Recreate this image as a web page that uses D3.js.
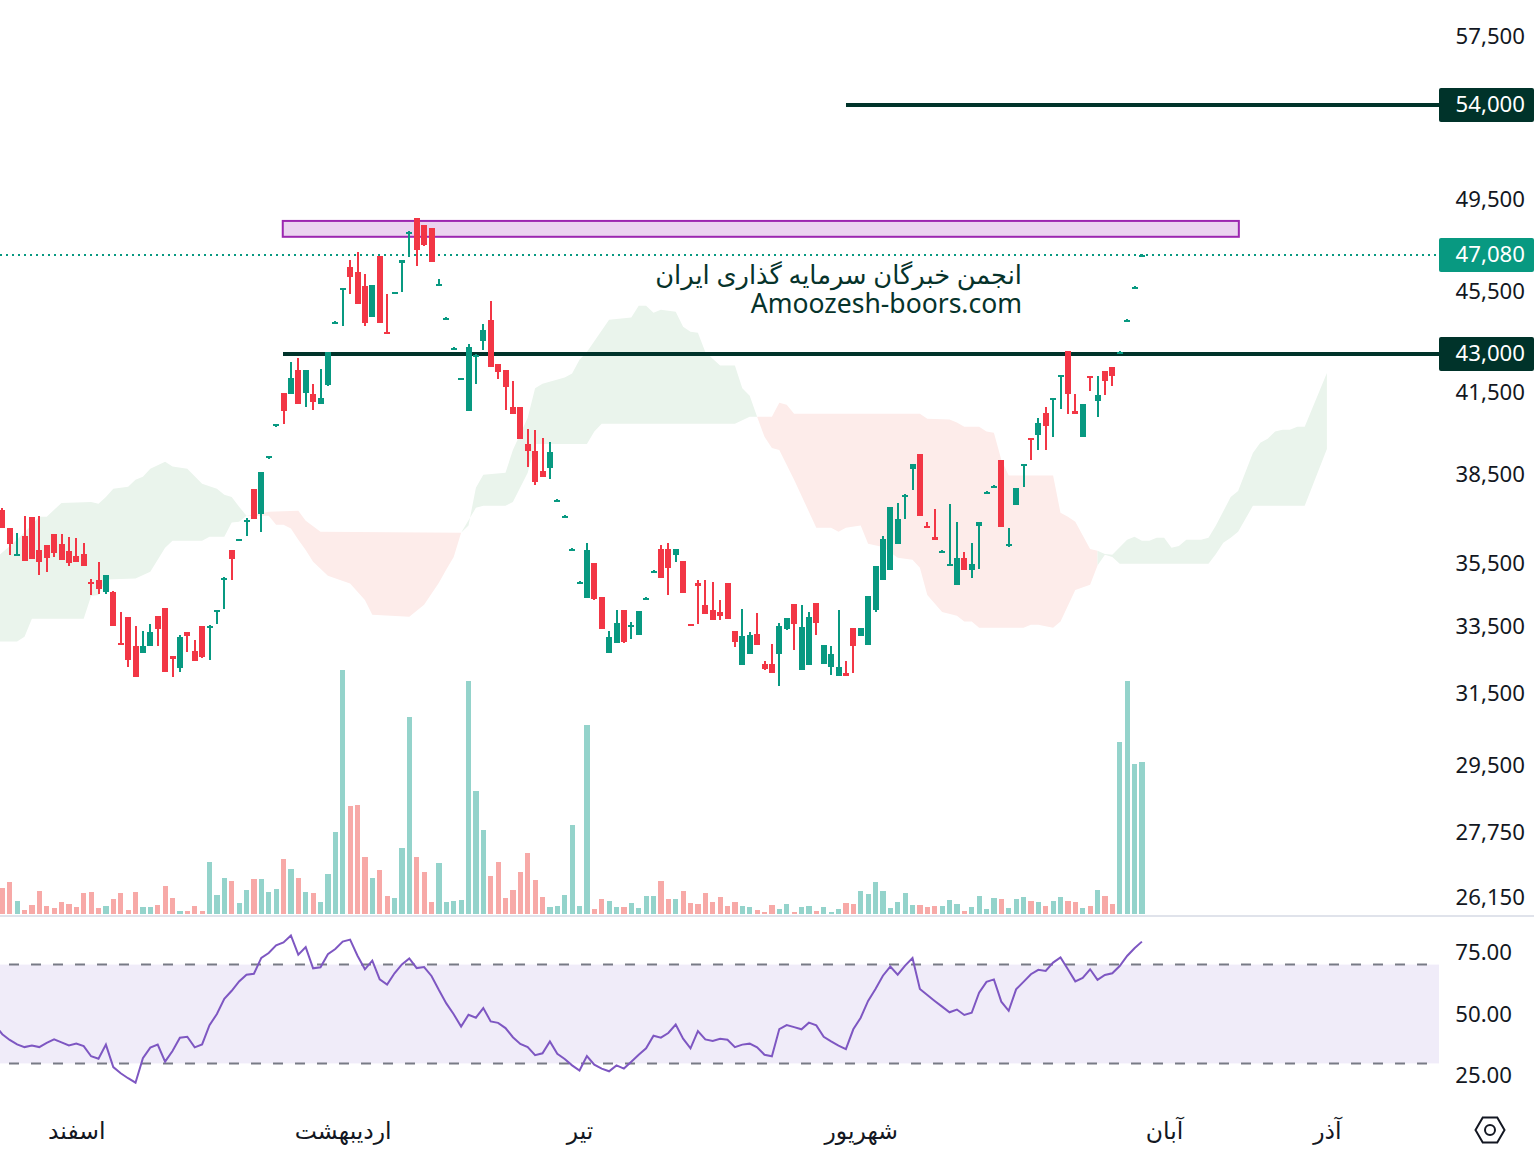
<!DOCTYPE html>
<html lang="fa">
    <head>
        <meta charset="utf-8">
        <title>Candles</title>
        <script src="https://d3js.org/d3.v7.min.js"></script>
        <style type="text/css">
            html, body{
                margin: 0;
                background: #fff;
            }
            svg{
                display: block;
            }
            text{
                font-family: "Noto Sans", "DejaVu Sans", sans-serif;
                fill: #131722;
            }
        </style>
    </head>
    <body>
        <svg width="1534" height="1154"></svg>
        <script type="text/javascript">

        //ADD DATA
        const open = [
            37270,36670,35770,36400,37040,35930,36100,36470,36130,35900,
            35740,35800,34900,34970,34580,34580,33010,33800,32910,32700,
            32910,33830,34080,32610,32260,33340,32760,33520,33490,33950,
            34970,35930,36230,36900,38000,37140,39090,40260,41490,41450,
            42370,41490,41450,41070,41790,44240,45590,46560,46340,45750,
            44480,47030,43870,45460,46720,48020,48680,48370,48240,45790,
            44390,43180,42000,40810,42920,43510,44350,42600,42370,40960,
            40960,39590,39340,38630,38740,37570,37030,35940,34880,34380,
            35510,34410,32700,33000,34010,33520,33250,34360,35220,35960,
            35960,35770,35580,33580,34870,34170,34010,33950,34870,33370,
            32350,32670,33280,32380,32380,32670,33430,34200,32200,32350,
            34230,32380,32290,32030,32090,33460,33220,32940,34010,34940,
            35290,36130,37710,38700,39230,36740,36370,35860,35450,34800,
            35670,35290,36740,37860,38070,39020,36060,37440,38840,39810,
            39920,40740,41220,42100,43100,40810,39850,42140,41180,42330,
            42490,43030,44320,45670,47060];
        const high = [
            37340,36670,36500,37070,37040,37070,36100,36470,36470,36370,
            36330,36170,35000,35540,35130,34610,33950,33800,33520,33370,
            33580,33830,34080,32610,33250,33340,33100,33520,33550,34010,
            35060,35930,36300,36980,38000,38600,39160,40330,41490,42680,
            42830,42370,41830,42410,43060,44310,45680,46850,47200,46260,
            45770,47030,45410,45510,46850,48110,48680,48370,48240,46040,
            44460,43250,42060,43380,42990,44190,45120,42600,42370,41950,
            40960,40150,40110,39810,39670,37650,37090,35990,34920,36170,
            35510,34410,33370,34010,34010,33650,33980,34400,35280,36100,
            36170,35960,35580,33580,34970,34940,34900,34320,34870,33370,
            34040,33340,33920,32470,32970,33610,33770,34200,34170,33950,
            34230,32940,32910,34010,32470,33460,33460,34450,35390,36400,
            37380,37510,37800,38880,39230,36870,37310,35920,37480,36870,
            35870,36170,36870,37920,38130,39020,36670,38030,38880,39810,
            40550,40960,41300,42170,43100,41450,41070,42140,42140,42330,
            42490,43090,44380,45730,47120];
        const low = [
            36650,35770,35740,35580,35640,35130,35220,35700,35610,35420,
            35540,35420,34480,34510,34510,33520,32940,32290,31990,32700,
            32910,32910,32140,32000,32140,32730,32470,32560,32500,33580,
            34040,34970,36230,36400,36970,36530,39060,40220,40330,41450,
            41070,40960,40850,41070,41750,44190,44110,45410,45000,44110,
            44480,44230,43790,45440,45500,46980,46600,47450,46770,45750,
            44360,43150,41970,40810,41830,43140,42490,42030,40850,40700,
            39780,38780,38140,38420,38350,37540,37010,35920,34860,34380,
            34320,33430,32700,33000,33000,33130,33250,34340,35200,35030,
            34480,35540,34550,33520,33580,33890,33710,33710,33740,32880,
            32350,32670,32940,32200,32090,31730,33400,32790,32200,32350,
            33250,32380,32050,32030,32030,32090,33220,32940,33950,34940,
            35290,36130,36970,37960,37070,36670,36270,35840,35420,34800,
            35290,35030,35320,37830,38040,36700,36030,37440,38070,39020,
            39370,39370,39850,40890,40670,40670,39850,41570,40590,41410,
            41750,43000,44290,45640,47040];
        const close = [
            36650,36130,35800,35580,35640,35540,35670,35830,35610,35510,
            35540,35420,34840,34680,35130,33520,32970,32500,31990,32910,
            33340,33430,32140,32530,33190,33220,32470,32590,33520,34010,
            35030,35640,36300,36940,36970,38600,39140,40310,40810,42070,
            41070,42370,41150,41300,43060,44280,45640,46130,45000,44230,
            45770,44230,43820,45490,46850,48080,47280,47500,46770,45830,
            44430,43220,42040,43260,42960,43950,42490,42290,41720,40700,
            39780,39340,38240,38420,39300,37610,37070,35970,34900,35930,
            34350,33430,33190,33610,33040,33550,33980,34380,35260,35030,
            35350,35960,34550,33520,34770,33890,33710,33830,33740,33040,
            33220,33250,32940,32230,32090,33520,33770,33580,33490,33800,
            33610,32940,32670,32290,32030,32910,33460,34450,35390,36300,
            37380,36970,37770,38880,37070,36670,36270,35900,35480,35670,
            35290,35480,36870,37900,38110,36700,36130,38030,38880,39740,
            40370,40260,41300,42170,41450,40670,41070,42070,41410,41950,
            42140,43070,44360,45710,47080];
        const volume = [
            26,32,13,4,9,23,8,6,12,10,
            7,21,22,6,8,15,21,4,22,7,
            7,9,28,16,3,3,8,3,52,19,
            36,33,11,24,35,35,22,25,55,45,
            36,22,21,12,40,82,244,108,109,57,
            36,44,18,16,66,197,57,42,12,51,
            12,13,14,233,123,84,38,52,16,24,
            42,61,34,17,7,8,19,89,8,189,
            5,15,13,7,7,11,6,18,18,33,
            15,15,23,11,10,21,12,17,8,12,
            8,7,4,2,9,5,10,2,7,8,
            3,7,2,5,11,10,23,20,32,23,
            6,12,21,9,9,7,8,8,14,10,
            3,7,18,5,16,15,6,15,17,13,
            12,8,13,17,13,12,6,8,24,18,
            10,172,233,150,152];
        //first value belongs to the bar just left of the frame
        const rsi = [
            45.5,41.8,39.5,37.7,36.6,37.2,36.6,38.3,39.7,38.5,37.3,
            38.0,37.0,32.9,31.9,37.6,28.5,26.0,24.0,22.2,32.1,
            36.4,37.6,30.7,35.0,40.4,40.8,36.5,37.7,45.5,50.0,
            56.1,59.4,63.2,65.9,66.3,72.7,74.7,77.8,79.0,81.8,
            74.0,77.1,68.5,68.9,74.2,76.3,79.3,80.1,73.6,68.1,
            71.6,64.0,61.9,66.5,70.1,72.5,68.6,69.0,65.4,59.7,
            54.3,49.9,44.9,49.7,48.5,52.4,47.0,46.4,44.3,40.6,
            37.9,36.6,33.3,34.1,38.9,33.9,31.8,29.2,27.1,33.0,
            29.5,27.9,26.8,29.2,27.9,30.7,33.5,36.1,41.2,40.4,
            42.3,45.7,40.0,36.1,43.1,39.7,39.1,40.0,39.6,36.6,
            37.6,38.0,36.5,33.5,32.9,43.9,45.5,44.7,43.8,46.5,
            45.4,40.8,38.9,37.2,35.8,43.8,48.5,55.3,60.1,65.5,
            69.2,65.9,69.6,72.7,60.1,57.7,55.3,53.0,50.7,51.8,
            49.6,50.5,58.6,63.0,64.0,55.0,51.3,60.0,63.0,66.1,
            67.9,67.4,70.8,72.9,68.1,63.2,64.6,68.1,63.8,65.8,
            66.5,69.4,73.5,76.6,79.3];

        //ICHIMOKU CLOUD, [bar, price] at each bend of the edge
        const cloudGreen1Top = [[-1,35640],[2,36270],[4,36770],[5,37040],[6,37040],[8,37510],[12,37540],[13,37480],[14,37710],[15,38000],[17,38070],[18,38310],[19,38420],[20,38700],[22,38950],[23,38780],[25,38700],[27,38170],[29,38000],[30,37790],[31,37710],[32,37380],[33,37070]];
        const cloudGreen1Bottom = [[-1,33040],[2,33040],[3,33190],[4,33740],[11,33740],[12,34450],[13,34480],[14,34970],[18,35000],[20,35220],[22,36000],[23,36230],[27,36230],[28,36370],[30,36370],[31,36840],[32,36870],[33,37070]];
        const cloudRed1Top = [[33,37070],[36,37210],[40,37240],[41,36900],[43,36530],[62,36500]];
        const cloudRed1Bottom = [[33,37070],[36,37070],[37,36770],[38,36770],[39,36640],[40,36270],[41,35930],[42,35540],[44,35090],[47,34840],[49,34320],[50,33860],[55,33800],[57,34170],[59,34870],[60,35290],[61,35700],[62,36500]];
        const cloudGreen2Top = [[62,36500],[63,36740],[64,38030],[65,38490],[68,38560],[69,39370],[71,40550],[72,41660],[73,41830],[76,42070],[77,42220],[78,42760],[79,43060],[82,44350],[85,44440],[86,44920],[87,44920],[88,44640],[89,44760],[91,44680],[92,44070],[93,43870],[94,43830],[95,43060],[97,42530],[99,42530],[100,41660],[101,41370],[102,40590]];
        const cloudGreen2Bottom = [[62,36500],[64,37340],[65,37410],[68,37410],[69,37540],[71,38560],[72,39590],[79,39590],[80,40040],[81,40330],[99,40330],[101,40590],[102,40590]];
        const cloudRed2Top = [[102,40590],[104,40590],[105,41110],[106,41030],[107,40700],[124,40700],[125,40510],[128,40480],[129,40370],[130,40220],[132,40220],[133,40040],[134,40000],[135,39020],[136,38460],[142,38460],[143,37170],[144,37040],[145,36870],[147,35960],[148,35900]];
        const cloudRed2Bottom = [[102,40590],[103,39850],[104,39440],[105,39370],[107,38310],[110,36670],[112,36670],[113,36530],[114,36670],[116,36740],[117,36130],[119,36030],[121,35670],[123,35610],[124,35350],[125,34480],[127,33950],[129,33830],[130,33650],[131,33650],[132,33460],[138,33460],[139,33550],[140,33550],[142,33460],[143,33650],[145,34640],[147,34800],[148,35420]];
        const cloudGreen3Top = [[148,35900],[149,35800],[150,35770],[152,36270],[153,36370],[154,36230],[155,36230],[156,36330],[157,36330],[158,36000],[159,36060],[160,36270],[162,36270],[163,36330],[164,36740],[166,37710],[167,37920],[169,39260],[170,39630],[171,39780],[172,40040],[173,40110],[174,40110],[175,40220],[176,40220],[179,42240]];
        const cloudGreen3Bottom = [[148,35420],[149,35770],[150,35700],[151,35480],[163,35480],[164,35800],[165,36170],[166,36330],[167,36530],[169,37410],[176,37410],[179,39410]];

        //TICKS AND LABELS
        const priceTicks = [57500,49500,45500,41500,38500,35500,33500,31500,29500,27750,26150];
        const rsiTicks = [75,50,25];
        const rsiBounds = [70,30];
        const monthBars = [10,46,78,116,157,179];
        const monthNames = ["اسفند","اردیبهشت","تیر","شهریور","آبان","آذر"];
        const levels = [54000,43000];
        const levelStartBars = [114,37.9];
        const lastPrice = 47080;
        const zoneTop = 48550;
        const zoneBottom = 47850;
        const zoneBars = [37.9,167.1];
        const watermark = ["انجمن خبرگان سرمایه گذاری ایران","Amoozesh-boors.com"];
        const watermarkSizes = [25.7,26.5];

        //COLOR
        const upColor = "#089981";
        const downColor = "#f23645";
        const volUpColor = "#94d3cb";
        const volDownColor = "#f7a9a7";
        const levelColor = "#00332a";

        //SCALE
        const plotRight = 1439;
        const x = d3.scaleLinear().domain([0,154]).range([2.3,1141.9]);
        const y = d3.scaleLog().domain([26150,57500]).range([897.2,36]);
        const volY = d3.scaleLinear().domain([0,244]).range([914,670]);
        const rsiY = d3.scaleLinear().domain([25,75]).range([1075.75,952.25]);

        const svg = d3.select("svg");

        //CLOUD
        const edge = d3.line().x(d => x(d[0])).y(d => y(d[1]));
        const clouds = [
            [cloudGreen1Top,cloudGreen1Bottom,"#eaf4ec"],
            [cloudRed1Top,cloudRed1Bottom,"#fdecea"],
            [cloudGreen2Top,cloudGreen2Bottom,"#eaf4ec"],
            [cloudRed2Top,cloudRed2Bottom,"#fdecea"],
            [cloudGreen3Top,cloudGreen3Bottom,"#eaf4ec"]
        ];
        svg.selectAll("path.cloud")
           .data(clouds)
           .join("path")
           .attr("class","cloud")
           .attr("fill", d => d[2])
           .attr("d", d => edge(d[0].concat(d[1].slice().reverse())) + "Z");

        //VOLUME
        svg.selectAll("rect.vol")
           .data(volume)
           .join("rect")
           .attr("class","vol")
           .attr("shape-rendering","crispEdges")
           .attr("x", (d,i) => x(i) - 2.6)
           .attr("width", 5.2)
           .attr("y", d => volY(d))
           .attr("height", d => volY(0) - volY(d))
           .attr("fill", (d,i) => close[i] >= open[i] ? volUpColor : volDownColor);

        svg.append("rect")
           .attr("x",0).attr("width",1534)
           .attr("y",915).attr("height",2)
           .attr("fill","#e0e3eb");

        //ZONE
        svg.append("rect")
           .attr("x", x(zoneBars[0]))
           .attr("width", x(zoneBars[1]) - x(zoneBars[0]))
           .attr("y", y(zoneTop))
           .attr("height", y(zoneBottom) - y(zoneTop))
           .attr("fill","#ebd4f0")
           .attr("stroke","#9c27b0")
           .attr("stroke-width",2);

        //LEVELS
        svg.append("line")
           .attr("shape-rendering","crispEdges")
           .attr("x1",0).attr("x2",plotRight)
           .attr("y1", Math.round(y(lastPrice))).attr("y2", Math.round(y(lastPrice)))
           .attr("stroke",upColor)
           .attr("stroke-width",2)
           .attr("stroke-dasharray","2 4");

        svg.selectAll("line.level")
           .data(levels)
           .join("line")
           .attr("class","level")
           .attr("shape-rendering","crispEdges")
           .attr("x1", (d,i) => x(levelStartBars[i]))
           .attr("x2", plotRight)
           .attr("y1", d => Math.round(y(d)))
           .attr("y2", d => Math.round(y(d)))
           .attr("stroke",levelColor)
           .attr("stroke-width",4);

        //WATERMARK
        svg.selectAll("text.mark")
           .data(watermark)
           .join("text")
           .attr("class","mark")
           .attr("x",1022)
           .attr("y", (d,i) => 284 + i*29)
           .attr("text-anchor","end")
           .attr("font-size", (d,i) => watermarkSizes[i])
           .style("fill","#06332b")
           .text(d => d);

        //CANDLES
        const candles = svg.append("g").attr("shape-rendering","crispEdges");
        candles.selectAll("rect.wick")
           .data(open)
           .join("rect")
           .attr("class","wick")
           .attr("x", (d,i) => Math.round(x(i)) - 1)
           .attr("width",2)
           .attr("y", (d,i) => Math.round(y(high[i])))
           .attr("height", (d,i) => Math.round(y(low[i])) - Math.round(y(high[i])))
           .attr("fill", (d,i) => close[i] >= d ? upColor : downColor);
        candles.selectAll("rect.body")
           .data(open)
           .join("rect")
           .attr("class","body")
           .attr("x", (d,i) => Math.round(x(i)) - 3)
           .attr("width",6)
           .attr("y", (d,i) => Math.round(y(Math.max(d,close[i]))))
           .attr("height", (d,i) => Math.max(2, Math.round(y(Math.min(d,close[i]))) - Math.round(y(Math.max(d,close[i])))))
           .attr("fill", (d,i) => close[i] >= d ? upColor : downColor);

        //RSI
        svg.append("rect")
           .attr("x",0).attr("width",plotRight)
           .attr("y", rsiY(rsiBounds[0]))
           .attr("height", rsiY(rsiBounds[1]) - rsiY(rsiBounds[0]))
           .attr("fill","#f0ecf9");
        svg.selectAll("line.bound")
           .data(rsiBounds)
           .join("line")
           .attr("class","bound")
           .attr("x1",-13).attr("x2",plotRight)
           .attr("y1", d => rsiY(d))
           .attr("y2", d => rsiY(d))
           .attr("stroke","#787b86")
           .attr("stroke-width",2)
           .attr("stroke-dasharray","10 12");
        svg.append("path")
           .datum(rsi)
           .attr("fill","none")
           .attr("stroke","#7e57c2")
           .attr("stroke-width",2)
           .attr("d", d3.line().x((d,i) => x(i-1)).y(d => rsiY(d)));

        //AXES
        const axisFont = (g, size, dy) => {
            g.select(".domain").remove();
            g.selectAll("text")
             .attr("font-size",size)
             .attr("dy",dy);
            g.attr("font-family",null);
        };
        svg.append("g")
           .attr("transform","translate(1525,0)")
           .call(d3.axisRight(y).tickValues(priceTicks).tickFormat(d3.format(",")).tickSize(0).tickPadding(0))
           .call(axisFont,22.2,"0.32em")
           .attr("text-anchor","end");
        svg.append("g")
           .attr("transform","translate(1512,0)")
           .call(d3.axisRight(rsiY).tickValues(rsiTicks).tickFormat(d3.format(".2f")).tickSize(0).tickPadding(0))
           .call(axisFont,22.2,"0.32em")
           .attr("text-anchor","end");
        svg.append("g")
           .attr("transform","translate(0,1122)")
           .call(d3.axisBottom(x).tickValues(monthBars).tickFormat((d,i) => monthNames[i]).tickSize(0).tickPadding(0))
           .call(axisFont,23.5,"0.71em");

        //PRICE TAGS
        const tags = [[levels[0],levelColor],[lastPrice,upColor],[levels[1],levelColor]];
        const tag = svg.selectAll("g.tag")
           .data(tags)
           .join("g")
           .attr("class","tag")
           .attr("transform", d => `translate(0,${Math.round(y(d[0]))})`);
        tag.append("rect")
           .attr("x",plotRight)
           .attr("width",95)
           .attr("y",-17)
           .attr("height",34)
           .attr("rx",2)
           .attr("fill", d => d[1]);
        tag.append("text")
           .attr("x",1525)
           .attr("dy","0.32em")
           .attr("text-anchor","end")
           .attr("font-size",22.2)
           .style("fill","#fff")
           .text(d => d3.format(",")(d[0]));

        //SETTINGS ICON
        const hex = d3.lineRadial().angle(d => d * Math.PI / 3 + Math.PI / 2).radius(14.5).curve(d3.curveLinearClosed);
        const icon = svg.append("g").attr("transform","translate(1490,1130)")
           .attr("fill","none").attr("stroke","#131722").attr("stroke-width",2);
        icon.append("path").attr("d", hex(d3.range(6)));
        icon.append("circle").attr("r",5);

        </script>
    </body>
</html>
